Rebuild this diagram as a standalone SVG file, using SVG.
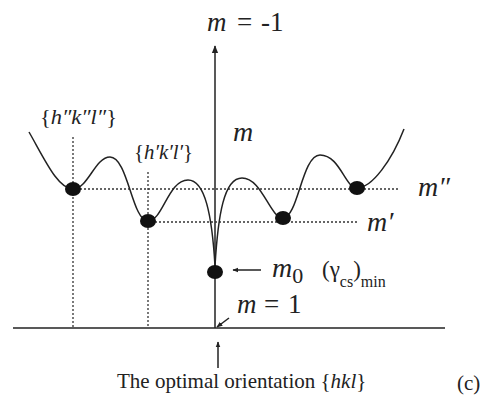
<svg xmlns="http://www.w3.org/2000/svg" width="494" height="398" viewBox="0 0 494 398">
<defs>
<marker id="ah" viewBox="0 0 10 10" refX="9" refY="5" markerWidth="8" markerHeight="8" markerUnits="userSpaceOnUse" orient="auto">
<path d="M0,1 L10,5 L0,9 Z" fill="#222"/>
</marker>
<marker id="ahs" viewBox="0 0 10 10" refX="9" refY="5" markerWidth="6" markerHeight="6" markerUnits="userSpaceOnUse" orient="auto">
<path d="M0,1 L10,5 L0,9 Z" fill="#222"/>
</marker>
</defs>
<style>
.ln{stroke:#222;stroke-width:1.5;fill:none}
.dot{stroke:#333;stroke-width:1.3;stroke-dasharray:2,2;fill:none}
.pt{fill:#111}
.t{font-family:"Liberation Serif",serif;fill:#222}
.i{font-style:italic}
</style>
<rect width="494" height="398" fill="#fff"/>
<g id="connectors">
<line class="ln" x1="13" y1="328" x2="445" y2="328"/>
<line class="ln" x1="215" y1="328" x2="215" y2="46" marker-end="url(#ah)"/>
<line class="dot" x1="80" y1="189" x2="400" y2="189"/>
<line class="dot" x1="155" y1="222" x2="358" y2="222"/>
<line class="dot" x1="73" y1="137" x2="73" y2="327"/>
<line class="dot" x1="148" y1="172" x2="148" y2="327"/>
<path class="ln" d="M29,132 C45,160 58,189 73,189 C88,189 95,157 110,157 C128,157 132,221 148,221 C163,221 168,180 188,180 C205,180 212,215 215,266 C218,215 224,178 242,178 C262,178 270,218 283,218 C298,218 302,155 320,155 C340,155 345,188 357,188 C372,188 392,160 404,129"/>
<line class="ln" x1="261" y1="270" x2="233" y2="270" stroke-width="1.3" marker-end="url(#ahs)"/>
<line class="ln" x1="229" y1="318" x2="217" y2="327" stroke-width="1.1" marker-end="url(#ahs)"/>
<line class="ln" x1="218" y1="368" x2="218" y2="342" stroke-width="1.3" marker-end="url(#ahs)"/>
</g>
<g id="node-h2"><ellipse class="pt" cx="73" cy="189" rx="8" ry="7"/></g>
<g id="node-h1"><ellipse class="pt" cx="148" cy="221" rx="8" ry="7"/></g>
<g id="node-r1"><ellipse class="pt" cx="283" cy="218" rx="8" ry="7"/></g>
<g id="node-r2"><ellipse class="pt" cx="357" cy="188" rx="8" ry="7"/></g>
<g id="node-m0"><ellipse class="pt" cx="215" cy="272" rx="8" ry="7"/></g>
<g id="labels">
<text class="t" y="31" font-size="27"><tspan class="i" x="207">m</tspan><tspan x="237">=</tspan><tspan x="261">-1</tspan></text>
<text class="t" x="40" y="124" font-size="20" textLength="77" lengthAdjust="spacingAndGlyphs">{<tspan class="i">h″k″l″</tspan>}</text>
<text class="t" x="134" y="159" font-size="20" textLength="59" lengthAdjust="spacingAndGlyphs">{<tspan class="i">h′k′l′</tspan>}</text>
<text class="t i" x="233" y="141" font-size="28">m</text>
<text class="t i" x="418" y="196" font-size="28">m″</text>
<text class="t i" x="367" y="231" font-size="28">m′</text>
<text class="t" x="272" y="277" font-size="28"><tspan class="i">m</tspan><tspan font-size="22" dy="6">0</tspan></text>
<text class="t" x="322" y="277" font-size="23">(γ<tspan font-size="16" dy="10">cs</tspan><tspan dy="-10">)</tspan><tspan font-size="16" dy="10">min</tspan></text>
<text class="t" y="313" font-size="27"><tspan class="i" x="237">m</tspan><tspan x="264">=</tspan><tspan x="288">1</tspan></text>
<text class="t" x="117" y="388" font-size="21">The optimal orientation {<tspan class="i">hkl</tspan>}</text>
<text class="t" x="457" y="390" font-size="21">(c)</text>
</g>
</svg>
